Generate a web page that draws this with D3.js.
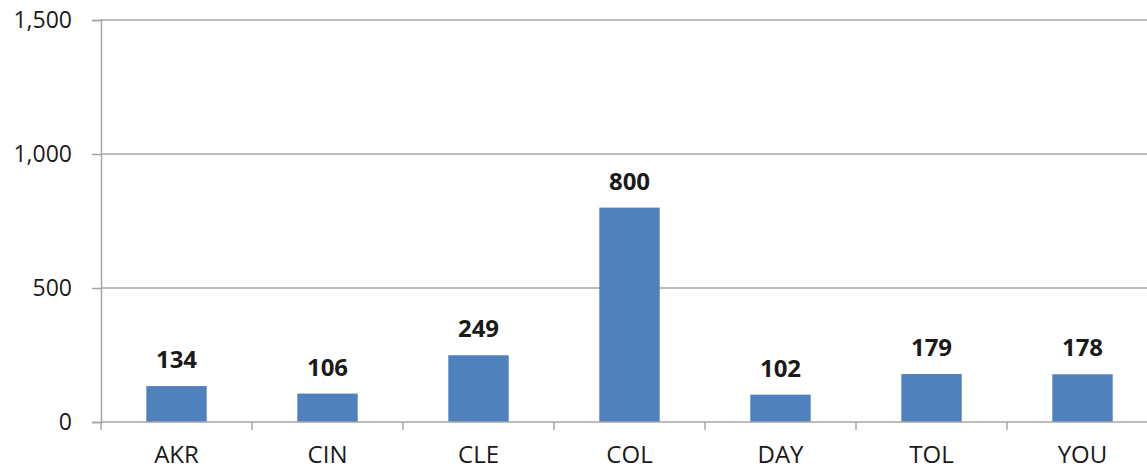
<!DOCTYPE html>
<html>
<head>
<meta charset="utf-8">
<script src="https://cdn.jsdelivr.net/npm/d3@7"></script>
<style>
  body { margin: 0; background: #fff; }
  text { font-family: "Open Sans", "Liberation Sans", sans-serif; fill: #1a1a1a; }
</style>
</head>
<body>
<script>
// Data
var categories = ['AKR', 'CIN', 'CLE', 'COL', 'DAY', 'TOL', 'YOU'];
var values = [134, 106, 249, 800, 102, 179, 178];
var yTicks = [0, 500, 1000, 1500];

// Layout
var WIDTH = 1147;
var HEIGHT = 471;
var LEFT = 101;
var TOP = 20;
var BOTTOM = 422;
var BAND = 151;
var BAR_COLOR = '#4f81bd';
var GRID_COLOR = '#a6a6a6';
var FONT = '"Open Sans", "Liberation Sans", sans-serif';

var x = d3.scaleBand()
  .domain(categories)
  .range([LEFT, LEFT + BAND * categories.length]);

var y = d3.scaleLinear()
  .domain([0, 1500])
  .range([BOTTOM, TOP]);

var fmt = d3.format(',');

var svg = d3.select('body').append('svg')
  .attr('width', WIDTH)
  .attr('height', HEIGHT);

// gridlines
svg.append('g')
  .selectAll('line')
  .data(yTicks.slice(1))
  .enter().append('line')
  .attr('x1', LEFT)
  .attr('x2', WIDTH)
  .attr('y1', function (d) { return y(d); })
  .attr('y2', function (d) { return y(d); })
  .attr('stroke', GRID_COLOR)
  .attr('stroke-width', 1.5);

// bars
svg.append('g')
  .selectAll('rect')
  .data(values)
  .enter().append('rect')
  .attr('x', function (d, i) { return x(categories[i]) + x.bandwidth() * 0.3; })
  .attr('width', x.bandwidth() * 0.4)
  .attr('y', function (d) { return y(d); })
  .attr('height', function (d) { return y(0) - y(d); })
  .attr('fill', BAR_COLOR);

// value labels
svg.append('g')
  .selectAll('text')
  .data(values)
  .enter().append('text')
  .attr('x', function (d, i) { return x(categories[i]) + x.bandwidth() / 2; })
  .attr('y', function (d) { return y(d) - 18; })
  .attr('text-anchor', 'middle')
  .style('font-size', '24px')
  .style('font-weight', 'bold')
  .text(function (d) { return fmt(d); });

// y axis
var yAxis = svg.append('g')
  .attr('transform', 'translate(' + LEFT + ',0)')
  .call(d3.axisLeft(y).tickValues(yTicks).tickFormat(fmt).tickSize(9).tickPadding(20));
yAxis.select('.domain').attr('stroke', GRID_COLOR).attr('stroke-width', 1.5);
yAxis.selectAll('.tick line').attr('stroke', GRID_COLOR).attr('stroke-width', 1.5);
yAxis.selectAll('.tick text')
  .style('font-size', '23px')
  .style('font-family', FONT)
  .attr('fill', '#1a1a1a');

// x axis
var xAxis = svg.append('g')
  .attr('transform', 'translate(0,' + BOTTOM + ')')
  .call(d3.axisBottom(x).tickSize(0).tickPadding(24));
xAxis.select('.domain').remove();
xAxis.append('line')
  .attr('x1', LEFT)
  .attr('x2', WIDTH)
  .attr('stroke', GRID_COLOR)
  .attr('stroke-width', 1.5);
xAxis.selectAll('.tick text')
  .style('font-size', '24px')
  .style('font-family', FONT)
  .attr('fill', '#1a1a1a');
// category boundary ticks
xAxis.append('g')
  .selectAll('line')
  .data(categories)
  .enter().append('line')
  .attr('x1', function (d) { return x(d); })
  .attr('x2', function (d) { return x(d); })
  .attr('y1', 0)
  .attr('y2', 8)
  .attr('stroke', GRID_COLOR)
  .attr('stroke-width', 1.5);
</script>
</body>
</html>
